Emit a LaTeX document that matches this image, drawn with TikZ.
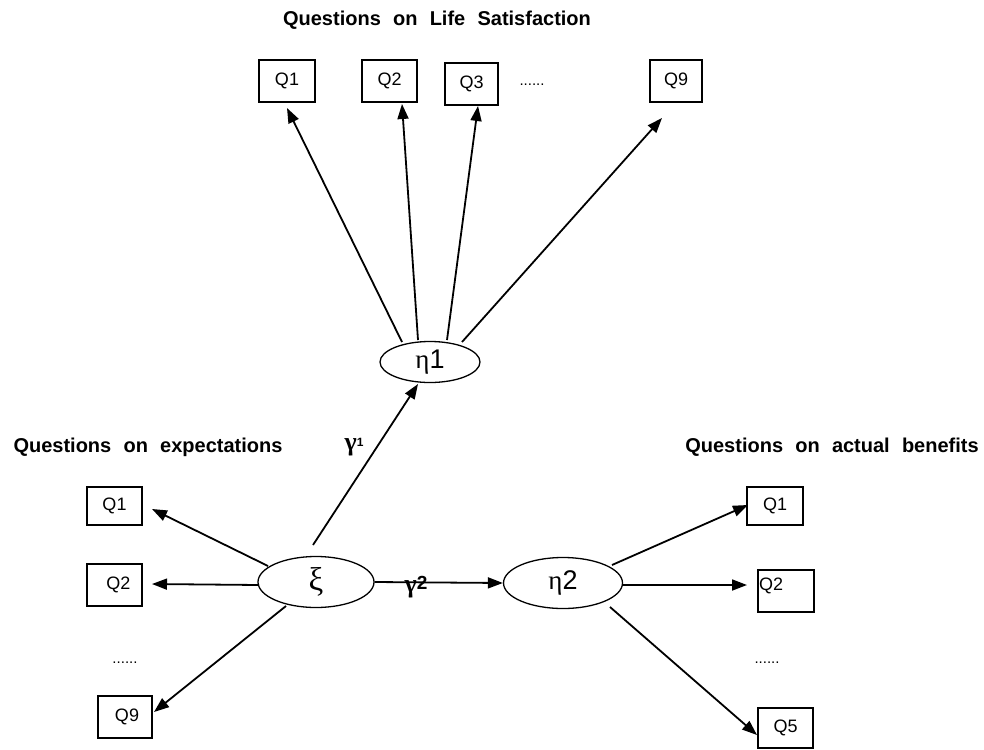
\documentclass[tikz,border=0pt]{standalone}
\usepackage{fontspec}
\setmainfont{Liberation Sans}
\newfontfamily\headfont{Liberation Sans}[WordSpace=2.2]
\newfontfamily\grkfont{Liberation Serif}
\usetikzlibrary{arrows.meta,shapes.geometric}
\tikzset{
  qbox/.style={draw, line width=1.9pt, inner sep=0pt, font=\fontsize{18}{18}\selectfont},
  latent/.style={draw, ellipse, line width=1.3pt, inner sep=0pt, font=\grkfont\fontsize{27}{27}\selectfont},
  heading/.style={font=\headfont\bfseries\fontsize{20}{20}\selectfont, inner sep=0pt},
  dotsnode/.style={font=\fontsize{15}{15}\selectfont, inner sep=0pt},
  conn/.style={line width=1.8pt, -{Triangle[length=15pt,width=11pt]}},
  gam/.style={inner sep=0pt, font=\bfseries\fontsize{26}{26}\selectfont}
}
\begin{document}
\begin{tikzpicture}[x=1pt,y=-1pt]
\useasboundingbox (0,0) rectangle (984,749);
% headings
\node[heading] (hlife) at (437,20) {Questions on Life Satisfaction};
\node[heading] (hexp) at (148,447) {Questions on expectations};
\node[heading] (hben) at (832,447) {Questions on actual benefits};
% top boxes
\node[qbox, minimum width=56pt, minimum height=42pt] (tq1) at (287,81) {Q1};
\node[qbox, minimum width=55pt, minimum height=42pt] (tq2) at (389.5,81) {Q2};
\node[qbox, minimum width=53pt, minimum height=42pt] (tq3) at (471.5,84) {Q3};
\node[dotsnode] (tdots) at (532,85) {......};
\node[qbox, minimum width=52pt, minimum height=42pt] (tq9) at (676,81) {Q9};
% left boxes
\node[qbox, minimum width=55pt, minimum height=38pt] (lq1) at (114.5,506) {Q1};
\node[qbox, minimum width=55pt, minimum height=42pt] (lq2) at (114.5,585) {\hspace*{8pt}Q2};
\node[dotsnode] (ldots) at (125,663) {......};
\node[qbox, minimum width=54pt, minimum height=42pt] (lq9) at (125,717) {\hspace*{4pt}Q9};
% right boxes
\node[qbox, minimum width=56pt, minimum height=38pt] (rq1) at (775,506) {Q1};
\node[qbox, minimum width=56pt, minimum height=42pt] (rq2) at (786,591) {};
\node[inner sep=0pt, font=\fontsize{18}{18}\selectfont, anchor=west] (rq2t) at (759,586) {Q2};
\node[dotsnode] (rdots) at (767,663) {......};
\node[qbox, minimum width=55pt, minimum height=40pt] (rq5) at (785.5,728) {Q5};
% latent variables
\node[latent, minimum width=100pt, minimum height=41pt] (eta1) at (430,362) {η\fontspec{Liberation Sans}1};
\node[latent, minimum width=116pt, minimum height=51pt] (xi) at (316,582) {\fontsize{33}{33}\selectfont ξ};
\node[latent, minimum width=119pt, minimum height=51pt] (eta2) at (563,583) {η\fontspec{Liberation Sans}2};
% gamma labels
\node[gam] (g1) at (354,447) {\grkfont γ\raisebox{4pt}{\fontspec{Liberation Sans}\fontsize{12}{12}\selectfont 1}};
\node[gam] (g2) at (416,587) {\grkfont\raisebox{-3pt}{γ}\fontspec{Liberation Sans}\bfseries\fontsize{19}{19}\selectfont 2};
% connector end points
\coordinate (s1) at (402,342); \coordinate (e1) at (287,108);
\coordinate (s2) at (418,340); \coordinate (e2) at (402,104);
\coordinate (s3) at (447,340); \coordinate (e3) at (478,106);
\coordinate (s4) at (462,342); \coordinate (e4) at (662,118);
\coordinate (xs1) at (313,545); \coordinate (xe1) at (418,384);
\coordinate (ls1) at (268,566); \coordinate (le1) at (152,509);
\coordinate (ls2) at (259,585); \coordinate (le2) at (152,584);
\coordinate (ls9) at (286,606); \coordinate (le9) at (154,712);
\coordinate (rs1) at (612,565); \coordinate (re1) at (748,505);
\coordinate (rs2) at (622,585); \coordinate (re2) at (747,585);
\coordinate (rs5) at (610,607); \coordinate (re5) at (757,735);
% connectors
\draw[conn] (s1) -- (e1);
\draw[conn] (s2) -- (e2);
\draw[conn] (s3) -- (e3);
\draw[conn] (s4) -- (e4);
\draw[conn] (xs1) -- (xe1);
\draw[conn] (xi.east) -- (eta2.west);
\draw[conn] (ls1) -- (le1);
\draw[conn] (ls2) -- (le2);
\draw[conn] (ls9) -- (le9);
\draw[conn] (rs1) -- (re1);
\draw[conn] (rs2) -- (re2);
\draw[conn] (rs5) -- (re5);
\end{tikzpicture}
\end{document}
